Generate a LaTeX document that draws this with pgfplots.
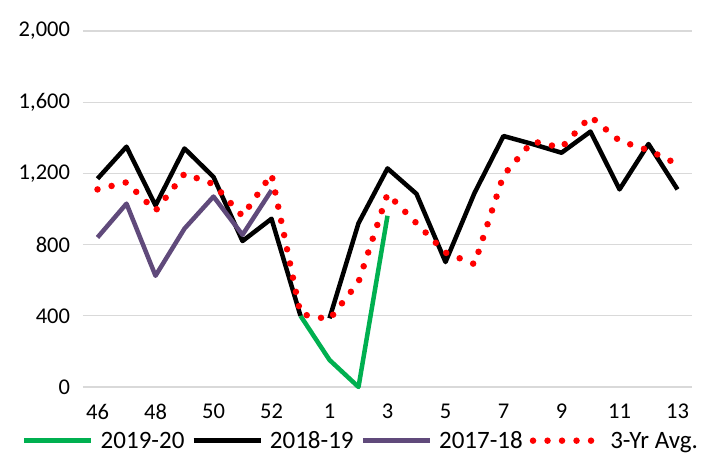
\documentclass[border=0pt]{standalone}
\usepackage{fontspec}
\setmainfont{Carlito}
\usepackage{pgfplots}
\pgfplotsset{compat=1.18}
\definecolor{cgreen}{HTML}{00B050}
\definecolor{cpurple}{HTML}{604A7B}
\definecolor{cgrid}{HTML}{D9D9D9}
\begin{document}
\begin{tikzpicture}
\useasboundingbox (-83pt,-66pt) rectangle (618pt,387pt);
\begin{axis}[
  at={(0,0)}, anchor=south west,
  scale only axis, width=609pt, height=356pt,
  xmin=-0.5, xmax=20.5, ymin=0, ymax=2000,
  xtick={0,2,...,20},
  xticklabels={46,48,50,52,1,3,5,7,9,11,13},
  ytick={0,400,...,2000},
  ymajorgrids, grid style={cgrid, line width=1.2pt},
  axis line style={draw=none},
  major tick length=0pt,
  tick label style={font=\fontsize{22.5}{27}\selectfont},
  /pgf/number format/assume math mode=true,
  /pgf/number format/1000 sep={,},
  yticklabel style={xshift=-9.5pt},
  xticklabel style={yshift=-13.5pt},
  unbounded coords=jump,
  clip=false,
  legend columns=4,
  legend style={at={(0.4557,-0.1508)}, anchor=center, draw=none, fill=none,
    font=\fontsize{25}{30}\selectfont, nodes={inner xsep=1pt, inner ysep=2pt},
    /tikz/every odd column/.append style={column sep=6pt},
    /tikz/every even column/.append style={column sep=6pt}},
  legend image code/.code={\draw[#1] (0pt,0pt) -- (67pt,0pt);},
]
\addplot[cgreen, line width=4.5pt, line join=round] coordinates {
 (7,400) (8,152) (9,0) (10,962)};
\addlegendentry{2019-20}
\addplot[black, line width=4.5pt, line join=round] coordinates {
 (0,1170) (1,1350) (2,1020) (3,1340) (4,1180) (5,820) (6,945) (7,400)
 (7.5,nan)
 (8,386) (9,920) (10,1228) (11,1085) (12,702) (13,1090) (14,1410) (15,1365)
 (16,1316) (17,1435) (18,1110) (19,1365) (20,1110)};
\addlegendentry{2018-19}
\addplot[cpurple, line width=4.5pt, line join=round] coordinates {
 (0,840) (1,1030) (2,625) (3,890) (4,1070) (5,855) (6,1105)};
\addlegendentry{2017-18}
\addplot[red, line width=6.5pt, line cap=round, dash pattern=on 0pt off 14.5pt] coordinates {
 (0,1110) (1,1150) (2,990) (3,1198) (4,1140) (5,960) (6,1195) (7,410)
 (8,380) (9,590) (10,1085) (11,920) (12,755) (13,690) (14,1190) (15,1380)
 (16,1345) (17,1520) (18,1383) (19,1330) (20,1252)};
\addlegendentry{3-Yr Avg.}
\end{axis}
\end{tikzpicture}
\end{document}
